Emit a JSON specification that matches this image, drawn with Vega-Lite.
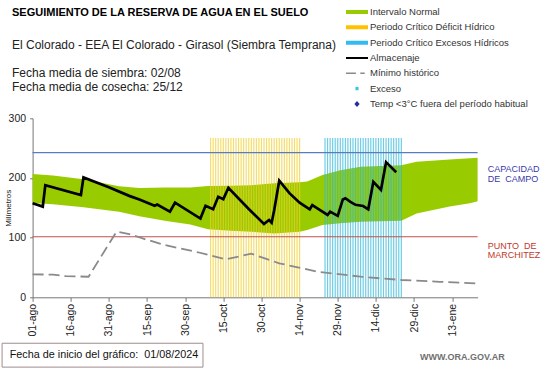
{
  "$schema": "https://vega.github.io/schema/vega-lite/v6.json",
  "width": 445,
  "height": 179,
  "autosize": {"type": "none"},
  "padding": {"left": 32.6, "top": 118.3, "right": 63.4, "bottom": 70.7},
  "background": "white",
  "config": {"view": {"stroke": null}, "font": "Liberation Sans"},
  "title": {
    "text": "SEGUIMIENTO DE LA RESERVA DE AGUA  EN EL SUELO",
    "subtitle": ["El Colorado - EEA El Colorado - Girasol (Siembra Temprana)", "\u200b", "Fecha media de siembra: 02/08", "Fecha media de cosecha: 25/12"],
    "anchor": "start",
    "frame": "group",
    "orient": "top",
    "dx": -20.6,
    "offset": -87,
    "font": "Liberation Sans",
    "fontSize": 11,
    "fontWeight": "bold",
    "color": "#000000",
    "subtitleFont": "Liberation Sans",
    "subtitleFontSize": 12,
    "subtitleColor": "#222222",
    "subtitlePadding": 22,
    "subtitleLineHeight": 14
  },
  "datasets": {
    "banda": [
      {"date": "2024-08-01", "lo": 158, "hi": 206.5},
      {"date": "2024-08-09", "lo": 156, "hi": 204},
      {"date": "2024-08-21", "lo": 151, "hi": 198},
      {"date": "2024-09-04", "lo": 143.5, "hi": 186},
      {"date": "2024-09-12", "lo": 136, "hi": 183},
      {"date": "2024-09-22", "lo": 128.5, "hi": 184},
      {"date": "2024-10-02", "lo": 122, "hi": 184},
      {"date": "2024-10-09", "lo": 114, "hi": 186.5},
      {"date": "2024-10-18", "lo": 111.5, "hi": 187},
      {"date": "2024-10-26", "lo": 110, "hi": 188},
      {"date": "2024-11-04", "lo": 107, "hi": 191},
      {"date": "2024-11-14", "lo": 110, "hi": 193},
      {"date": "2024-11-17", "lo": 113, "hi": 194},
      {"date": "2024-11-23", "lo": 121, "hi": 205},
      {"date": "2024-11-30", "lo": 124, "hi": 213},
      {"date": "2024-12-08", "lo": 126.5, "hi": 219},
      {"date": "2024-12-24", "lo": 128.5, "hi": 221.5},
      {"date": "2024-12-30", "lo": 140.5, "hi": 227},
      {"date": "2025-01-12", "lo": 152, "hi": 231},
      {"date": "2025-01-20", "lo": 157.5, "hi": 233},
      {"date": "2025-01-23", "lo": 161, "hi": 234}
    ],
    "almacenaje": [
      {"date": "2024-08-01", "mm": 157.5},
      {"date": "2024-08-05", "mm": 152},
      {"date": "2024-08-06", "mm": 188},
      {"date": "2024-08-20", "mm": 171.5},
      {"date": "2024-08-21", "mm": 201},
      {"date": "2024-08-31", "mm": 184.5},
      {"date": "2024-09-08", "mm": 170},
      {"date": "2024-09-12", "mm": 164},
      {"date": "2024-09-18", "mm": 153.5},
      {"date": "2024-09-19", "mm": 155.5},
      {"date": "2024-09-24", "mm": 143.5},
      {"date": "2024-09-26", "mm": 158.5},
      {"date": "2024-10-06", "mm": 132},
      {"date": "2024-10-08", "mm": 153.5},
      {"date": "2024-10-11", "mm": 147.5},
      {"date": "2024-10-13", "mm": 168.5},
      {"date": "2024-10-15", "mm": 164.5},
      {"date": "2024-10-17", "mm": 183.5},
      {"date": "2024-10-25", "mm": 148},
      {"date": "2024-10-31", "mm": 123},
      {"date": "2024-11-02", "mm": 129.5},
      {"date": "2024-11-03", "mm": 125},
      {"date": "2024-11-04", "mm": 146},
      {"date": "2024-11-06", "mm": 195.5},
      {"date": "2024-11-10", "mm": 174.5},
      {"date": "2024-11-14", "mm": 158.5},
      {"date": "2024-11-18", "mm": 147.5},
      {"date": "2024-11-19", "mm": 154.5},
      {"date": "2024-11-25", "mm": 138},
      {"date": "2024-11-26", "mm": 143.5},
      {"date": "2024-11-29", "mm": 136.5},
      {"date": "2024-12-01", "mm": 164},
      {"date": "2024-12-02", "mm": 166},
      {"date": "2024-12-04", "mm": 160},
      {"date": "2024-12-06", "mm": 155},
      {"date": "2024-12-09", "mm": 153},
      {"date": "2024-12-11", "mm": 147.5},
      {"date": "2024-12-13", "mm": 193.5},
      {"date": "2024-12-16", "mm": 180},
      {"date": "2024-12-18", "mm": 226.5},
      {"date": "2024-12-22", "mm": 209.5}
    ],
    "minimo": [
      {"date": "2024-08-01", "mm": 38.5},
      {"date": "2024-08-09", "mm": 38},
      {"date": "2024-08-14", "mm": 35.5},
      {"date": "2024-08-23", "mm": 34.5},
      {"date": "2024-09-03", "mm": 110},
      {"date": "2024-09-08", "mm": 106},
      {"date": "2024-09-13", "mm": 99},
      {"date": "2024-09-22", "mm": 87.5},
      {"date": "2024-10-05", "mm": 75.5},
      {"date": "2024-10-16", "mm": 63.5},
      {"date": "2024-10-26", "mm": 73},
      {"date": "2024-11-06", "mm": 57},
      {"date": "2024-11-21", "mm": 43},
      {"date": "2024-12-08", "mm": 34.5},
      {"date": "2024-12-24", "mm": 29},
      {"date": "2025-01-08", "mm": 26},
      {"date": "2025-01-23", "mm": 23}
    ],
    "deficit": [
      {"date": "2024-10-10"}, {"date": "2024-10-11"}, {"date": "2024-10-12"}, {"date": "2024-10-13"},
      {"date": "2024-10-14"}, {"date": "2024-10-15"}, {"date": "2024-10-16"}, {"date": "2024-10-17"},
      {"date": "2024-10-18"}, {"date": "2024-10-19"}, {"date": "2024-10-20"}, {"date": "2024-10-21"},
      {"date": "2024-10-22"}, {"date": "2024-10-23"}, {"date": "2024-10-24"}, {"date": "2024-10-25"},
      {"date": "2024-10-26"}, {"date": "2024-10-27"}, {"date": "2024-10-28"}, {"date": "2024-10-29"},
      {"date": "2024-10-30"}, {"date": "2024-10-31"}, {"date": "2024-11-01"}, {"date": "2024-11-02"},
      {"date": "2024-11-03"}, {"date": "2024-11-04"}, {"date": "2024-11-05"}, {"date": "2024-11-06"},
      {"date": "2024-11-07"}, {"date": "2024-11-08"}, {"date": "2024-11-09"}, {"date": "2024-11-10"},
      {"date": "2024-11-11"}, {"date": "2024-11-12"}, {"date": "2024-11-13"}, {"date": "2024-11-14"}
    ],
    "exceso": [
      {"date": "2024-11-24"}, {"date": "2024-11-25"}, {"date": "2024-11-26"}, {"date": "2024-11-27"},
      {"date": "2024-11-28"}, {"date": "2024-11-29"}, {"date": "2024-11-30"}, {"date": "2024-12-01"},
      {"date": "2024-12-02"}, {"date": "2024-12-03"}, {"date": "2024-12-04"}, {"date": "2024-12-05"},
      {"date": "2024-12-06"}, {"date": "2024-12-07"}, {"date": "2024-12-08"}, {"date": "2024-12-09"},
      {"date": "2024-12-10"}, {"date": "2024-12-11"}, {"date": "2024-12-12"}, {"date": "2024-12-13"},
      {"date": "2024-12-14"}, {"date": "2024-12-15"}, {"date": "2024-12-16"}, {"date": "2024-12-17"},
      {"date": "2024-12-18"}, {"date": "2024-12-19"}, {"date": "2024-12-20"}, {"date": "2024-12-21"},
      {"date": "2024-12-22"}, {"date": "2024-12-23"}, {"date": "2024-12-24"}
    ],
    "umbrales": [
      {"nombre": "Capacidad de campo", "mm": 242.5},
      {"nombre": "Punto de marchitez", "mm": 101.5}
    ],
    "series": []
  },
  "layer": [
    {
      "data": {"name": "banda"},
      "mark": {"type": "area", "color": "#99cc00", "opacity": 1},
      "encoding": {
        "x": {
          "field": "date",
          "type": "temporal",
          "scale": {"type": "utc", "domain": [{"year": 2024, "month": 8, "date": 1, "utc": true}, {"year": 2025, "month": 1, "date": 23, "utc": true}]},
          "axis": {
            "title": null,
            "grid": false,
            "values": [
              {"year": 2024, "month": 8, "date": 1, "utc": true},
              {"year": 2024, "month": 8, "date": 16, "utc": true},
              {"year": 2024, "month": 8, "date": 31, "utc": true},
              {"year": 2024, "month": 9, "date": 15, "utc": true},
              {"year": 2024, "month": 9, "date": 30, "utc": true},
              {"year": 2024, "month": 10, "date": 15, "utc": true},
              {"year": 2024, "month": 10, "date": 30, "utc": true},
              {"year": 2024, "month": 11, "date": 14, "utc": true},
              {"year": 2024, "month": 11, "date": 29, "utc": true},
              {"year": 2024, "month": 12, "date": 14, "utc": true},
              {"year": 2024, "month": 12, "date": 29, "utc": true},
              {"year": 2025, "month": 1, "date": 13, "utc": true}
            ],
            "labelExpr": "utcFormat(datum.value, '%d') + '-' + ['ene','feb','mar','abr','may','jun','jul','ago','sep','oct','nov','dic'][utcmonth(datum.value)]",
            "labelAngle": -90,
            "labelAlign": "right",
            "labelBaseline": "middle",
            "labelFont": "Liberation Sans",
            "labelFontSize": 10.5,
            "labelColor": "#222222",
            "labelPadding": 2,
            "labelOverlap": false,
            "labelBound": false,
            "labelFlush": false,
            "tickSize": 4,
            "tickColor": "#777777",
            "domainColor": "#777777"
          }
        },
        "y": {
          "field": "hi",
          "type": "quantitative",
          "scale": {"domain": [0, 300], "nice": false},
          "axis": {
            "title": "Milímetros",
            "titleFont": "Liberation Sans",
            "titleFontSize": 8,
            "titleFontWeight": "normal",
            "titleColor": "#222222",
            "titlePadding": -4,
            "values": [0, 50, 100, 150, 200, 250, 300],
            "grid": false,
            "labelFont": "Liberation Sans",
            "labelFontSize": 10.5,
            "labelColor": "#222222",
            "labelPadding": 4,
            "tickSize": 3,
            "tickColor": "#777777",
            "domainColor": "#777777"
          }
        },
        "y2": {"field": "lo"}
      }
    },
    {
      "data": {"name": "deficit"},
      "mark": {"type": "rule", "color": "#f0cf2a", "strokeWidth": 1.2, "opacity": 0.7},
      "encoding": {
        "x": {"field": "date", "type": "temporal"},
        "y": {"datum": 0},
        "y2": {"datum": 267}
      }
    },
    {
      "data": {"name": "exceso"},
      "mark": {"type": "rule", "color": "#2fb8d8", "strokeWidth": 1.2, "opacity": 0.7},
      "encoding": {
        "x": {"field": "date", "type": "temporal"},
        "y": {"datum": 0},
        "y2": {"datum": 267}
      }
    },
    {
      "data": {"name": "umbrales"},
      "transform": [{"filter": "datum.nombre == 'Capacidad de campo'"}],
      "mark": {"type": "rule", "color": "#5b7bc0", "strokeWidth": 1.2},
      "encoding": {"y": {"field": "mm", "type": "quantitative"}}
    },
    {
      "data": {"name": "umbrales"},
      "transform": [{"filter": "datum.nombre == 'Punto de marchitez'"}],
      "mark": {"type": "rule", "color": "#c0504d", "strokeWidth": 1.2},
      "encoding": {"y": {"field": "mm", "type": "quantitative"}}
    },
    {
      "data": {"name": "minimo"},
      "mark": {"type": "line", "color": "#8a8a8a", "strokeWidth": 1.8, "strokeDash": [11, 5]},
      "encoding": {
        "x": {"field": "date", "type": "temporal"},
        "y": {"field": "mm", "type": "quantitative"}
      }
    },
    {
      "data": {"name": "almacenaje"},
      "mark": {"type": "line", "color": "#000000", "strokeWidth": 2.7},
      "encoding": {
        "x": {"field": "date", "type": "temporal"},
        "y": {"field": "mm", "type": "quantitative"}
      }
    },
    {
      "data": {"values": [{}]},
      "mark": {"type": "text", "text": ["CAPACIDAD", "DE\u00a0\u00a0CAMPO"], "align": "left", "baseline": "top", "fontSize": 9, "lineHeight": 9.5, "color": "#3a3aa8"},
      "encoding": {
        "x": {"datum": {"year": 2025, "month": 1, "date": 27, "utc": true}, "type": "temporal"},
        "y": {"datum": 221}
      }
    },
    {
      "data": {"values": [{}]},
      "mark": {"type": "text", "text": ["PUNTO\u00a0\u00a0DE", "MARCHITEZ"], "align": "left", "baseline": "top", "fontSize": 9, "lineHeight": 9, "color": "#c0392b"},
      "encoding": {
        "x": {"datum": {"year": 2025, "month": 1, "date": 27, "utc": true}, "type": "temporal"},
        "y": {"datum": 92}
      }
    },
    {
      "data": {"values": [{}]},
      "mark": {"type": "rect", "fill": "white", "stroke": "#a08c8c", "strokeWidth": 1},
      "encoding": {
        "x": {"datum": {"year": 2024, "month": 7, "date": 20, "utc": true}, "type": "temporal"},
        "x2": {"datum": {"year": 2024, "month": 10, "date": 7, "utc": true}},
        "y": {"datum": -77},
        "y2": {"datum": -117}
      }
    },
    {
      "data": {"values": [{}]},
      "mark": {"type": "text", "text": "Fecha de inicio del gráfico:\u00a0\u00a001/08/2024", "align": "left", "baseline": "middle", "fontSize": 10.8, "color": "#111111"},
      "encoding": {
        "x": {"datum": {"year": 2024, "month": 7, "date": 23, "utc": true}, "type": "temporal"},
        "y": {"datum": -97}
      }
    },
    {
      "data": {"values": [{}]},
      "mark": {"type": "text", "text": "WWW.ORA.GOV.AR", "align": "center", "baseline": "middle", "fontSize": 9, "fontWeight": "bold", "color": "#707070"},
      "encoding": {
        "x": {"datum": {"year": 2025, "month": 1, "date": 17, "utc": true}, "type": "temporal"},
        "y": {"datum": -100}
      }
    },
    {
      "data": {"name": "series"},
      "mark": {"type": "point", "filled": true, "opacity": 1},
      "encoding": {
        "color": {
          "field": "serie",
          "type": "nominal",
          "scale": {
            "domain": ["Intervalo Normal", "Periodo Crítico Déficit Hídrico", "Periodo Crítico Excesos Hídricos", "Almacenaje", "Mínimo histórico", "Exceso", "Temp <3°C fuera del período habitual"],
            "range": ["#99cc00", "#ffc000", "#33bbee", "#000000", "#8a8a8a", "#33ccdd", "#1f2f9f"]
          },
          "legend": {
            "title": null,
            "orient": "none",
            "legendX": 313.4,
            "legendY": -112.8,
            "padding": 0,
            "symbolSize": 484,
            "clipHeight": 13,
            "rowPadding": 2.33,
            "labelFont": "Liberation Sans",
            "labelFontSize": 9.5,
            "labelColor": "#333333",
            "labelOffset": 2,
            "symbolStrokeWidth": 0,
            "symbolOffset": 0,
            "labelLimit": 300
          }
        },
        "shape": {
          "field": "serie",
          "type": "nominal",
          "scale": {
            "domain": ["Intervalo Normal", "Periodo Crítico Déficit Hídrico", "Periodo Crítico Excesos Hídricos", "Almacenaje", "Mínimo histórico", "Exceso", "Temp <3°C fuera del período habitual"],
            "range": [
              "M-1,-0.18H1V0.18H-1Z",
              "M-1,-0.18H1V0.18H-1Z",
              "M-1,-0.18H1V0.18H-1Z",
              "M-1,-0.1H1V0.1H-1Z",
              "M-1.05,-0.07H-0.1V0.07H-1.05Z M0.3,-0.07H0.7V0.07H0.3Z",
              "M-0.14,-0.14H0.14V0.14H-0.14Z",
              "M0,-0.28L0.24,0L0,0.28L-0.24,0Z"
            ]
          },
          "legend": {
            "title": null,
            "orient": "none",
            "legendX": 313.4,
            "legendY": -112.8,
            "padding": 0,
            "symbolSize": 484,
            "clipHeight": 13,
            "rowPadding": 2.33,
            "labelFont": "Liberation Sans",
            "labelFontSize": 9.5,
            "labelColor": "#333333",
            "labelOffset": 2,
            "symbolStrokeWidth": 0,
            "symbolOffset": 0,
            "labelLimit": 300
          }
        }
      }
    }
  ]
}
